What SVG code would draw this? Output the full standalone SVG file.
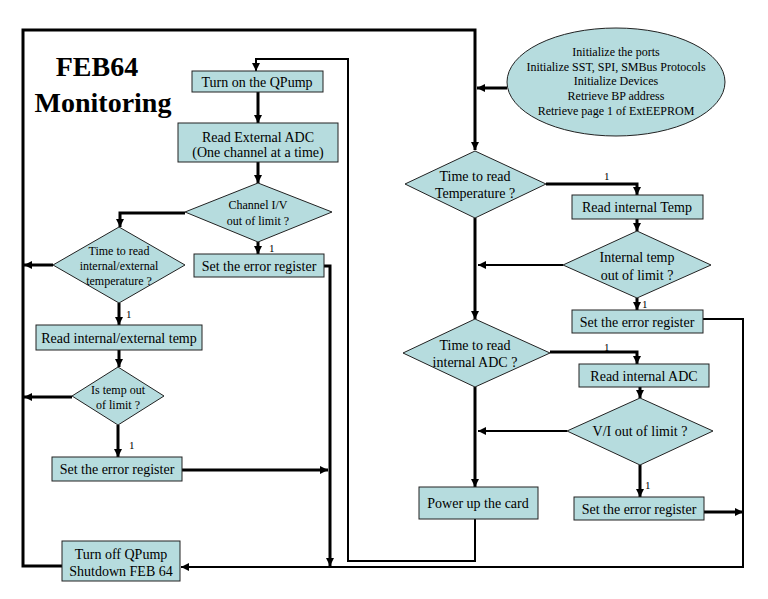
<svg xmlns="http://www.w3.org/2000/svg" width="768" height="599" viewBox="0 0 768 599" font-family="'Liberation Serif', 'DejaVu Serif', serif">
<style>
.box{fill:#b6dcde;stroke:#222;stroke-width:1}
.t{font-family:'Liberation Serif','DejaVu Serif',serif;font-size:14px;fill:#000;text-anchor:middle;dominant-baseline:central}
.s{font-size:12px}
.lbl{font-family:'Liberation Serif','DejaVu Serif',serif;font-size:11px;fill:#000}
.c{fill:none;stroke:#000;stroke-width:3}
.n{stroke-width:2}
.title{font-family:'Liberation Serif','DejaVu Serif',serif;font-size:28px;font-weight:bold;fill:#000;text-anchor:middle}
</style>
<defs>
<marker id="a" viewBox="0 0 8 8" refX="8" refY="4" markerWidth="8" markerHeight="8" markerUnits="userSpaceOnUse" orient="auto">
<path d="M0,0 L8,4 L0,8 Z" fill="#000"/>
</marker>
</defs>
<rect width="768" height="599" fill="#fff"/>
<g id="title">
<text class="title" x="97" y="76">FEB64</text>
<text class="title" x="103" y="112">Monitoring</text>
</g>
<g id="connectors">
<polyline class="c" points="62,566 23,566 23,30 475,30 475,150" marker-end="url(#a)"/>
<polyline class="c" points="507,88 477,88" marker-end="url(#a)"/>
<polyline class="c" points="258,92 258,123" marker-end="url(#a)"/>
<polyline class="c" points="258,162 258,183" marker-end="url(#a)"/>
<polyline class="c" points="185,213 120,213 120,227" marker-end="url(#a)"/>
<polyline class="c" points="258,242 258,254" marker-end="url(#a)"/>
<polyline class="c" points="53,265 24,265" marker-end="url(#a)"/>
<polyline class="c" points="119,303 119,325" marker-end="url(#a)"/>
<polyline class="c" points="119,350 119,367" marker-end="url(#a)"/>
<polyline class="c" points="72,397 24,397" marker-end="url(#a)"/>
<polyline class="c" points="118,425 118,457" marker-end="url(#a)"/>
<polyline class="c" points="182,470 328,470" marker-end="url(#a)"/>
<polyline class="c" points="324,266 330,266 330,566" marker-end="url(#a)"/>
<polyline class="c n" points="703,319 743,319 743,567 181,567" marker-end="url(#a)"/>
<polyline class="c n" points="475,519 475,561 348,561 348,59 256,59 256,71" marker-end="url(#a)"/>
<polyline class="c" points="546,184 637,184 637,195" marker-end="url(#a)"/>
<polyline class="c" points="637,219 637,231" marker-end="url(#a)"/>
<polyline class="c n" points="563,265 478,265" marker-end="url(#a)"/>
<polyline class="c" points="637,298 637,310" marker-end="url(#a)"/>
<polyline class="c" points="475,218 475,319" marker-end="url(#a)"/>
<polyline class="c" points="550,352 637,352 637,364" marker-end="url(#a)"/>
<polyline class="c" points="640,387 640,398" marker-end="url(#a)"/>
<polyline class="c n" points="567,431 478,431" marker-end="url(#a)"/>
<polyline class="c" points="640,465 640,497" marker-end="url(#a)"/>
<polyline class="c" points="704,512 743,512" marker-end="url(#a)"/>
<polyline class="c" points="475,387 475,487" marker-end="url(#a)"/>
<text class="lbl" x="269" y="252">1</text>
<text class="lbl" x="126" y="318">1</text>
<text class="lbl" x="129" y="449">1</text>
<text class="lbl" x="604" y="180">1</text>
<text class="lbl" x="642" y="308">1</text>
<text class="lbl" x="604" y="351">1</text>
<text class="lbl" x="645" y="489">1</text>
</g>
<g id="init">
<ellipse class="box" cx="616" cy="82" rx="109" ry="54"/>
<text class="t s" x="616" y="52">Initialize the ports</text>
<text class="t s" x="616" y="67">Initialize SST, SPI, SMBus Protocols</text>
<text class="t s" x="616" y="81">Initialize Devices</text>
<text class="t s" x="616" y="96">Retrieve BP address</text>
<text class="t s" x="616" y="111">Retrieve page 1 of ExtEEPROM</text>
</g>
<g id="qpump-on">
<rect class="box" x="192" y="71" width="131" height="21"/>
<text class="t" x="257" y="82">Turn on the QPump</text>
</g>
<g id="read-ext-adc">
<rect class="box" x="178" y="123" width="160" height="39"/>
<text class="t" x="258" y="137">Read External ADC</text>
<text class="t" x="258" y="152">(One channel at a time)</text>
</g>
<g id="channel-limit">
<polygon class="box" points="258,183 332,212 258,242 185,212"/>
<text class="t s" x="258" y="205">Channel I/V</text>
<text class="t s" x="258" y="221">out of limit ?</text>
</g>
<g id="err1">
<rect class="box" x="194" y="254" width="130" height="23"/>
<text class="t" x="259" y="266">Set the error register</text>
</g>
<g id="time-int-ext">
<polygon class="box" points="119,227 185,265 119,303 53,265"/>
<text class="t s" x="119" y="251">Time to read</text>
<text class="t s" x="119" y="266">internal/external</text>
<text class="t s" x="119" y="281">temperature ?</text>
</g>
<g id="read-int-ext">
<rect class="box" x="36" y="325" width="166" height="25"/>
<text class="t" x="119" y="338">Read internal/external temp</text>
</g>
<g id="temp-limit">
<polygon class="box" points="118,367 164,396 118,425 72,396"/>
<text class="t s" x="118" y="390">Is temp out</text>
<text class="t s" x="118" y="405">of limit ?</text>
</g>
<g id="err2">
<rect class="box" x="52" y="457" width="130" height="24"/>
<text class="t" x="117" y="469">Set the error register</text>
</g>
<g id="qpump-off">
<rect class="box" x="62" y="541" width="118" height="40"/>
<text class="t" x="121" y="554">Turn off QPump</text>
<text class="t" x="121" y="571">Shutdown FEB 64</text>
</g>
<g id="time-temp">
<polygon class="box" points="475,151 546,184 475,218 405,184"/>
<text class="t" x="475" y="176">Time to read</text>
<text class="t" x="475" y="193">Temperature ?</text>
</g>
<g id="read-int-temp">
<rect class="box" x="572" y="195" width="131" height="24"/>
<text class="t" x="637" y="207">Read internal Temp</text>
</g>
<g id="int-temp-limit">
<polygon class="box" points="637,231 711,265 637,298 563,265"/>
<text class="t" x="637" y="257">Internal temp</text>
<text class="t" x="637" y="275">out of limit ?</text>
</g>
<g id="err3">
<rect class="box" x="572" y="310" width="131" height="23"/>
<text class="t" x="637" y="322">Set the error register</text>
</g>
<g id="time-adc">
<polygon class="box" points="475,319 550,353 475,387 403,353"/>
<text class="t" x="475" y="345">Time to read</text>
<text class="t" x="475" y="362">internal ADC ?</text>
</g>
<g id="read-int-adc">
<rect class="box" x="579" y="364" width="130" height="23"/>
<text class="t" x="644" y="376">Read internal ADC</text>
</g>
<g id="vi-limit">
<polygon class="box" points="640,398 713,431 640,465 567,431"/>
<text class="t" x="640" y="431">V/I out of limit ?</text>
</g>
<g id="err4">
<rect class="box" x="574" y="497" width="130" height="23"/>
<text class="t" x="639" y="509">Set the error register</text>
</g>
<g id="power-up">
<rect class="box" x="419" y="487" width="119" height="32"/>
<text class="t" x="478" y="503">Power up the card</text>
</g>
</svg>
